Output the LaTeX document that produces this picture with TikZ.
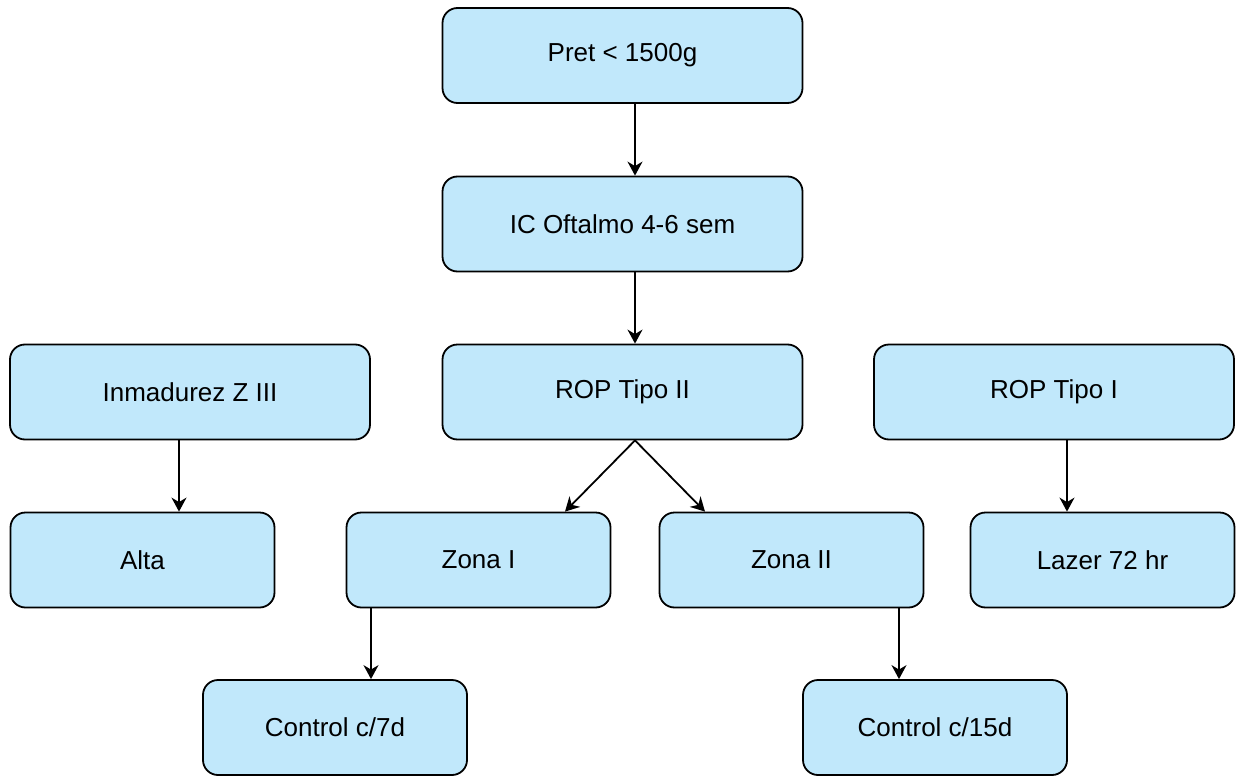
\documentclass[tikz,border=0pt]{standalone}
\usepackage{fontspec}
\setmainfont{Liberation Sans}
\usetikzlibrary{arrows.meta}
\definecolor{boxfill}{RGB}{193,232,251}
\begin{document}
\begin{tikzpicture}[x=1pt,y=-1pt,
  box/.style={draw=black,fill=boxfill,line width=1.8pt,rounded corners=15pt,
    minimum height=95pt,inner sep=0pt,
    font=\fontsize{26}{31}\selectfont},
  wide/.style={box,minimum width=360pt},
  narrow/.style={box,minimum width=264pt},
  arr/.style={line width=1.8pt,-{Stealth[length=14pt,width=15pt,inset=4.5pt]}}]
\useasboundingbox (0,0) rectangle (1237,776);
\node[wide] (pret) at (622.5,55.5) {Pret < 1500g};
\node[wide] (ic) at (622.5,224) {IC Oftalmo 4-6 sem};
\node[wide] (rop2) at (622.5,392) {ROP Tipo II};
\node[wide] (inm) at (190,392) {Inmadurez Z III};
\node[wide] (rop1) at (1054,392) {ROP Tipo I};
\node[narrow] (alta) at (142.5,560) {Alta};
\node[narrow] (zona1) at (478.5,560) {Zona I};
\node[narrow] (zona2) at (791.5,560) {Zona II};
\node[narrow] (lazer) at (1102.5,560) {Lazer 72 hr};
\node[narrow] (c7) at (335,727.5) {Control c/7d};
\node[narrow] (c15) at (935,727.5) {Control c/15d};
\draw[arr] ([xshift=12.5pt]pret.south) -- ([xshift=12.5pt]ic.north);
\draw[arr] ([xshift=12.5pt]ic.south) -- ([xshift=12.5pt]rop2.north);
\draw[arr] ([xshift=12.5pt]rop2.south) -- ([xshift=86.5pt]zona1.north);
\draw[arr] ([xshift=12.5pt]rop2.south) -- ([xshift=-86.5pt]zona2.north);
\draw[arr] ([xshift=-11pt]inm.south) -- ([xshift=36.5pt]alta.north);
\draw[arr] ([xshift=13pt]rop1.south) -- ([xshift=-35.5pt]lazer.north);
\draw[arr] ([xshift=-107.5pt]zona1.south) -- ([xshift=36pt]c7.north);
\draw[arr] ([xshift=107.5pt]zona2.south) -- ([xshift=-36pt]c15.north);
\end{tikzpicture}
\end{document}
